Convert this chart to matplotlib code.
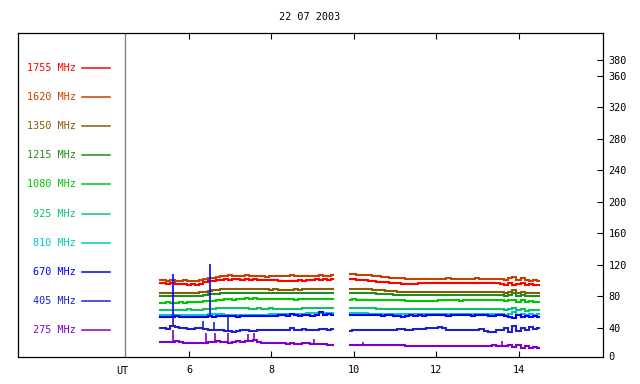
import numpy as np
import matplotlib
matplotlib.use("Agg")
import matplotlib.pyplot as plt

plt.rcParams['font.family'] = ['DejaVu Sans Mono']
plt.rcParams['font.size'] = 7.3

title = "22 07 2003"
labels = ["1755 MHz", "1620 MHz", "1350 MHz", "1215 MHz", "1080 MHz",
          "925 MHz", "810 MHz", "670 MHz", "405 MHz", "275 MHz"]
colors = ["#FF0000", "#C84000", "#8C5A00", "#228B22", "#00C800",
          "#10C070", "#00C8C8", "#0000FF", "#2020C8", "#8000C8"]
ytick_vals = [40, 80, 120, 160, 200, 240, 280, 320, 360, 380]
xtick_vals = [6, 8, 10, 12, 14]

# sampling times (UT hours)
t_a = np.round(np.arange(5.3, 9.55, 0.1), 2)    # 43 samples
t_b = np.round(np.arange(9.9, 14.55, 0.1), 2)   # 47 samples

s1755_a = [97,97,96,97,96,96,96,95,96,95, 96,98,100,100,101,101,102,101,102,102,
           101,102,101,102,101,101,101,101,101,100, 100,100,100,100,101,100,101,101,102,101,
           102,101,102]
s1755_b = [102,102,101,101,101,100,100,99,99,98, 97,97,97,96,96,96,96,97,97,97,
           97,97,97,97,97,97,97,97,97,97, 97,97,97,97,97,97,97,96,95,97,
           94,96,97,95,96,95,95]
s1620_a = [101,101,100,101,100,100,101,100,100,100, 101,102,104,104,105,106,106,107,106,106,
           106,107,106,106,106,106,105,106,106,106, 106,106,107,106,106,106,106,106,106,107,
           106,106,107]
s1620_b = [108,108,107,107,107,107,106,106,105,105, 104,104,103,103,102,102,102,102,102,102,
           102,102,102,102,103,102,102,102,102,102, 102,103,102,102,102,102,102,102,101,103,
           105,101,103,101,100,101,100]
s1350_a = [85,85,84,85,85,85,84,85,85,85, 86,86,87,88,88,89,89,89,90,90,
           90,89,90,89,89,89,89,88,89,88, 88,88,88,89,88,89,89,89,90,89,
           90,90,90]
s1350_b = [90,90,89,89,89,89,88,88,88,87, 87,87,86,86,86,86,86,86,86,86,
           86,86,86,86,86,86,86,86,86,86, 86,86,86,86,86,86,86,86,85,86,
           88,85,86,84,85,84,84]
s1215_a = [80,81,80,80,80,81,80,80,81,80, 81,82,83,83,83,84,84,84,85,85,
           85,85,84,85,85,85,85,85,84,85, 85,85,85,85,85,85,84,85,85,85,
           85,85,85]
s1215_b = [85,85,84,84,84,84,84,83,83,83, 83,82,82,82,82,82,82,82,82,82,
           82,82,82,82,82,82,82,82,82,82, 82,82,82,82,82,82,82,82,81,82,
           84,81,82,80,81,81,80]
s1080_a = [72,72,73,72,72,73,72,73,73,73, 73,74,74,74,75,76,77,77,76,77,
           77,78,77,78,77,77,77,77,77,77, 77,77,77,76,77,77,77,77,77,77,
           77,77,77]
s1080_b = [76,77,76,76,76,76,76,75,75,75, 75,75,75,75,74,74,74,74,74,74,
           74,74,75,75,75,75,75,74,75,75, 75,75,75,75,75,75,75,75,74,75,
           76,73,75,73,74,73,73]
s925_a = [63,63,63,63,63,63,63,64,63,63, 63,64,64,64,65,65,65,65,65,65,
          65,65,64,64,65,64,64,65,64,64, 64,64,64,64,64,66,66,66,66,66,
          66,66,66]
s925_b = [66,66,66,66,65,65,65,64,64,64, 64,64,64,64,64,64,64,64,64,64,
          64,64,64,64,64,64,64,64,64,64, 64,64,64,64,64,64,64,64,63,64,
          66,63,64,62,63,63,63]
s810_a = [56,56,56,56,56,56,56,56,56,56, 57,57,58,58,58,58,57,57,57,57,
          57,57,57,57,57,57,57,58,58,58, 58,58,58,58,58,58,59,59,59,59,
          59,59,59]
s810_b = [59,59,59,59,59,58,58,58,58,58, 58,58,58,58,58,58,58,58,58,58,
          58,58,58,58,58,58,58,58,58,58, 58,58,58,58,58,58,58,58,57,58,
          60,57,58,57,58,57,58]
s670_a = [54,54,54,54,55,54,54,54,54,54, 54,54,55,54,55,55,55,55,55,54,
          55,55,55,55,55,55,55,55,55,56, 57,55,58,56,55,57,56,55,56,60,
          57,58,57]
s670_b = [56,56,56,56,56,56,56,56,55,56, 56,55,55,54,55,56,55,56,55,56,
          56,56,56,56,55,56,56,56,56,56, 55,56,56,56,55,55,56,56,55,54,
          53,56,54,55,54,55,54]
s405_a = [40,40,39,43,41,40,40,39,39,40, 40,39,38,37,37,37,36,36,35,36,
          37,37,36,36,37,37,37,38,37,38, 37,38,40,38,38,39,38,38,38,39,
          39,38,39]
s405_b = [36,37,37,37,37,37,37,37,38,38, 38,38,39,39,38,38,39,39,39,40,
          40,40,41,40,38,37,37,37,38,37, 38,38,39,36,35,35,38,38,40,35,
          43,36,40,38,41,39,40]
s275_a = [22,22,22,22,23,22,21,21,21,21, 21,21,22,22,23,22,22,21,22,23,
          22,23,24,25,22,21,21,21,21,21, 21,20,21,20,20,21,21,20,20,20,
          20,19,19]
s275_b = [18,18,19,18,18,18,18,18,18,18, 18,18,18,18,17,17,17,17,17,17,
          17,17,17,17,17,17,17,17,17,17, 17,17,17,17,17,18,17,17,17,18,
          16,18,15,17,15,16,15]

# narrow bursts (time, peak value)
burst670_t = [5.62, 6.52]
burst670_v = [109, 121]
burst405_t = [5.62, 6.35, 6.60, 6.94]
burst405_v = [54, 49, 48, 55]
burst275_t = [5.62, 6.41, 6.64, 6.94, 7.44, 7.58, 9.03, 10.23, 13.60]
burst275_v = [37.5, 34, 33.5, 34, 32.5, 34, 26, 22, 23.5]

series_a = [s1755_a, s1620_a, s1350_a, s1215_a, s1080_a, s925_a, s810_a, s670_a, s405_a, s275_a]
series_b = [s1755_b, s1620_b, s1350_b, s1215_b, s1080_b, s925_b, s810_b, s670_b, s405_b, s275_b]

fig = plt.figure(figsize=(6.4, 3.84), dpi=100)
ax = fig.add_axes([18 / 640, 27 / 384, 585 / 640, 324 / 384])
ax.set_xlim(1.85, 16.05)
ax.set_ylim(3.3, 414)

for sa, sb, col in zip(series_a, series_b, colors):
    ax.plot(t_a, sa, color=col, lw=1.5, drawstyle='steps-mid', solid_joinstyle='miter')
    ax.plot(t_b, sb, color=col, lw=1.5, drawstyle='steps-mid', solid_joinstyle='miter')

t_all = np.concatenate([t_a, t_b])
for bt, bv, sa, sb, col in [(burst670_t, burst670_v, s670_a, s670_b, colors[7]),
                            (burst405_t, burst405_v, s405_a, s405_b, colors[8]),
                            (burst275_t, burst275_v, s275_a, s275_b, colors[9])]:
    base = np.interp(bt, t_all, np.concatenate([sa, sb]))
    ax.vlines(bt, base, bv, color=col, lw=1.2)

# separator line between legend and data
ut_x = 4.44
ax.axvline(ut_x, color="#808080", lw=1)

# legend
for i, (lab, col) in enumerate(zip(labels, colors)):
    yy = 370 - 37 * i
    ax.text(3.26, yy, lab, ha='right', va='center', color=col)
    ax.plot([3.40, 4.08], [yy, yy], color=col, lw=1.1)

ax.set_xticks(xtick_vals)
ax.set_xticklabels([str(v) for v in xtick_vals])
ax.set_yticks(ytick_vals)
ax.set_yticklabels([str(v) for v in ytick_vals])
ax.tick_params(axis='x', direction='in', top=True, bottom=True, length=4, width=0.8, pad=6)
ax.tick_params(axis='y', direction='in', left=False, right=True, labelleft=False,
               labelright=True, length=4, width=0.8, pad=4)
ax.text(ut_x - 0.05, -0.044, "UT", transform=ax.get_xaxis_transform(),
        ha='center', va='center')
# zero label at the bottom corner of the right axis
ax.text(1.0, 0.0, " 0", transform=ax.transAxes, ha='left', va='center')
for sp in ax.spines.values():
    sp.set_linewidth(0.9)
    sp.set_color('black')

fig.text(310 / 640, 1 - 17 / 384, title, ha='center', va='center')

fig.savefig("out.png", dpi=100)
